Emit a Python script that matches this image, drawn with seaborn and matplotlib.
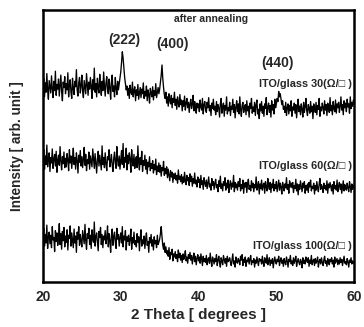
import numpy as np
import pandas as pd
import matplotlib
matplotlib.use("Agg")
import matplotlib.pyplot as plt
import seaborn as sns

# XRD scans of ITO films on glass after annealing, 2-theta from 20 to 60 deg in 0.1 deg steps
two_theta = [round(20 + 0.1 * i, 1) for i in range(401)]

ito_30 = [
    250, 262, 238, 256, 244, 268, 247, 235, 259, 251,
    243, 265, 249, 237, 258, 246, 271, 240, 254, 248,
    261, 239, 252, 266, 245, 233, 257, 250, 264, 242,
    255, 247, 269, 238, 253, 260, 244, 236, 262, 249,
    241, 258, 251, 273, 246, 239, 256, 263, 243, 252,
    266, 245, 237, 259, 250, 242, 268, 254, 240, 257,
    248, 263, 252, 236, 260, 247, 275, 244, 255, 238,
    262, 249, 243, 267, 251, 240, 258, 246, 270, 253,
    239, 256, 264, 248, 242, 261, 250, 235, 257, 266,
    245, 252, 238, 263, 249, 241, 258, 247, 255, 262,
    270, 282, 296, 288, 276, 263, 255, 247, 252, 240,
    249, 236, 253, 244, 241, 257, 238, 246, 251, 233,
    247, 240, 254, 235, 243, 250, 237, 248, 242, 256,
    236, 245, 239, 252, 233, 247, 241, 230, 249, 243,
    238, 251, 234, 246, 240, 255, 237, 244, 250, 242,
    248, 257, 266, 279, 262, 250, 241, 236, 244, 230,
    238, 226, 242, 233, 229, 240, 224, 236, 231, 244,
    227, 235, 222, 238, 230, 225, 241, 228, 234, 220,
    233, 226, 239, 221, 230, 236, 224, 231, 218, 229,
    235, 223, 228, 240, 220, 232, 226, 217, 230, 224,
    229, 219, 234, 225, 221, 236, 216, 228, 232, 222,
    218, 231, 224, 237, 220, 227, 214, 230, 223, 235,
    221, 226, 215, 232, 219, 228, 224, 212, 229, 236,
    217, 225, 230, 213, 227, 221, 238, 216, 224, 220,
    231, 214, 226, 222, 235, 218, 228, 211, 225, 233,
    219, 229, 216, 238, 222, 213, 227, 231, 218, 224,
    228, 215, 233, 220, 226, 212, 230, 223, 236, 217,
    225, 219, 231, 214, 228, 234, 216, 222, 210, 229,
    220, 232, 217, 226, 213, 229, 223, 237, 215, 224,
    230, 218, 227, 212, 233, 221, 228, 216, 235, 224,
    229, 236, 232, 245, 238, 242, 235, 228, 233, 222,
    226, 218, 231, 214, 224, 229, 216, 227, 220, 233,
    213, 225, 221, 230, 217, 228, 211, 224, 235, 219,
    226, 215, 229, 222, 212, 231, 218, 225, 236, 220,
    214, 228, 223, 217, 232, 219, 226, 210, 229, 224,
    218, 231, 215, 227, 222, 236, 213, 225, 220, 230,
    224, 216, 233, 221, 228, 214, 230, 225, 218, 237,
    220, 227, 215, 232, 223, 219, 234, 217, 229, 224,
    231, 218, 226, 238, 221, 228, 215, 233, 224, 230,
    219, 235, 225, 229, 217, 238, 223, 231, 226, 234,
    228,
]

ito_60 = [
    156, 170, 145, 162, 151, 176, 148, 159, 166, 142,
    160, 153, 171, 146, 158, 164, 149, 168, 141, 157,
    163, 150, 174, 155, 144, 161, 152, 167, 147, 159,
    148, 165, 157, 143, 170, 153, 162, 146, 158, 172,
    151, 160, 145, 166, 156, 140, 163, 154, 169, 149,
    161, 147, 158, 173, 150, 164, 143, 157, 152, 167,
    145, 162, 155, 148, 171, 159, 146, 165, 153, 140,
    158, 168, 149, 163, 154, 144, 175, 151, 160, 147,
    166, 152, 143, 161, 157, 170, 148, 155, 164, 150,
    142, 159, 167, 153, 146, 174, 156, 149, 162, 145,
    157, 169, 151, 178, 147, 160, 154, 172, 144, 163,
    152, 166, 158, 141, 170, 155, 149, 164, 146, 157,
    161, 147, 175, 153, 144, 160, 151, 168, 142, 156,
    150, 163, 145, 157, 139, 154, 148, 161, 143, 152,
    146, 156, 140, 151, 144, 158, 138, 149, 142, 153,
    141, 150, 136, 147, 143, 155, 137, 146, 139, 148,
    134, 145, 138, 130, 143, 135, 141, 128, 139, 133,
    140, 131, 137, 127, 144, 132, 136, 129, 138, 126,
    135, 128, 141, 131, 125, 137, 130, 134, 124, 139,
    129, 136, 123, 133, 127, 140, 126, 131, 122, 135,
    128, 132, 121, 137, 125, 130, 119, 134, 127, 123,
    131, 120, 128, 135, 122, 126, 118, 133, 124, 129,
    119, 127, 132, 121, 125, 116, 130, 123, 136, 120,
    126, 117, 129, 124, 134, 118, 127, 121, 131, 115,
    125, 130, 119, 127, 122, 137, 116, 128, 121, 126,
    118, 129, 123, 133, 117, 125, 120, 131, 114, 127,
    122, 128, 115, 126, 132, 119, 124, 117, 130, 121,
    127, 116, 125, 121, 135, 118, 123, 129, 113, 126,
    120, 131, 118, 124, 127, 114, 129, 122, 117, 133,
    123, 119, 128, 115, 126, 121, 132, 117, 125, 120,
    129, 116, 124, 131, 118, 127, 122, 113, 128, 123,
    117, 126, 121, 134, 119, 125, 114, 130, 122, 127,
    121, 128, 115, 124, 120, 132, 117, 126, 112, 125,
    119, 130, 123, 116, 127, 121, 129, 114, 124, 118,
    126, 115, 128, 122, 131, 117, 123, 120, 127, 113,
    124, 118, 129, 121, 116, 126, 133, 119, 125, 122,
    115, 127, 120, 124, 118, 130, 114, 126, 121, 128,
    122, 117, 125, 113, 129, 120, 124, 118, 131, 116,
    123, 128, 119, 126, 114, 122, 130, 117, 125, 120,
    118, 127, 121, 116, 129, 123, 115, 126, 119, 124,
    121,
]

ito_100 = [
    55, 69, 46, 61, 50, 73, 43, 58, 64, 49,
    60, 44, 71, 54, 57, 39, 66, 52, 63, 47,
    58, 75, 48, 62, 42, 65, 53, 70, 45, 59,
    51, 67, 41, 60, 56, 72, 46, 63, 54, 44,
    68, 50, 59, 38, 64, 55, 71, 47, 61, 52,
    45, 66, 57, 49, 74, 53, 42, 62, 56, 69,
    48, 60, 43, 67, 55, 51, 77, 46, 58, 63,
    52, 40, 65, 57, 70, 48, 61, 44, 59, 54,
    66, 49, 56, 72, 45, 62, 53, 38, 60, 68,
    47, 58, 64, 51, 43, 69, 55, 61, 46, 57,
    63, 50, 71, 45, 59, 54, 66, 41, 58, 52,
    60, 47, 55, 68, 42, 57, 50, 64, 48, 53,
    45, 62, 51, 58, 40, 56, 67, 46, 54, 49,
    59, 43, 55, 63, 47, 52, 38, 57, 50, 61,
    46, 54, 41, 58, 49, 53, 44, 60, 48, 51,
    55, 62, 71, 58, 47, 42, 50, 38, 45, 36,
    40, 33, 44, 29, 38, 35, 42, 27, 36, 32,
    39, 30, 35, 26, 41, 31, 37, 28, 34, 25,
    36, 29, 33, 40, 27, 32, 24, 35, 30, 38,
    28, 34, 23, 31, 37, 26, 33, 22, 30, 35,
    27, 32, 24, 36, 29, 21, 33, 26, 30, 25,
    34, 22, 29, 31, 24, 37, 27, 20, 32, 28,
    23, 30, 26, 35, 21, 28, 33, 25, 19, 31,
    27, 22, 34, 29, 24, 30, 20, 33, 26, 28,
    31, 25, 21, 29, 36, 23, 27, 19, 32, 26,
    24, 30, 27, 22, 33, 28, 35, 21, 29, 25,
    32, 20, 28, 26, 31, 23, 29, 34, 22, 27,
    25, 30, 19, 28, 24, 32, 26, 21, 30, 27,
    29, 23, 33, 25, 20, 31, 27, 24, 35, 22,
    26, 31, 21, 28, 24, 30, 18, 27, 32, 25,
    23, 29, 26, 33, 21, 27, 31, 24, 28, 20,
    30, 25, 22, 32, 27, 19, 29, 26, 34, 23,
    27, 21, 31, 24, 28, 33, 20, 26, 30, 25,
    22, 29, 26, 18, 31, 24, 28, 23, 32, 27,
    25, 31, 20, 28, 24, 34, 22, 27, 29, 21,
    30, 24, 27, 32, 19, 26, 29, 23, 31, 25,
    21, 28, 33, 24, 27, 20, 30, 25, 22, 29,
    26, 31, 23, 28, 19, 32, 24, 27, 30, 22,
    28, 23, 31, 25, 29, 21, 27, 33, 24, 26,
    22, 30, 26, 19, 28, 25, 31, 23, 27, 24,
    26,
]

sample_labels = ["ITO/glass 30(\u03a9/\u25a1 )",
                 "ITO/glass 60(\u03a9/\u25a1 )",
                 "ITO/glass 100(\u03a9/\u25a1 )"]
label_levels = [254, 149, 46]

peak_names = ["(222)", "(400)", "(440)"]
peak_pos = [30.5, 36.6, 50.1]
peak_text_y = [311, 306, 281]

x_ticks = [20, 30, 40, 50, 60]
y_ticks = [100, 200, 300]

frames = []
for name, vals in zip(sample_labels, [ito_30, ito_60, ito_100]):
    frames.append(pd.DataFrame({"two_theta": two_theta, "intensity": vals, "sample": name}))
df = pd.concat(frames, ignore_index=True)

sns.set_theme(style="white")
plt.rcParams["font.family"] = ["Liberation Sans", "DejaVu Sans"]

fig = plt.figure(figsize=(3.64, 3.27), dpi=100)
ax = fig.add_axes([0.118, 0.138, 0.855, 0.832])

sns.lineplot(data=df, x="two_theta", y="intensity", units="sample", estimator=None,
             color="black", linewidth=0.95, ax=ax, legend=False)

ax.set_xlim(20, 60)
ax.set_ylim(0, 350)
ax.set_xticks(x_ticks)
ax.set_xticklabels([str(t) for t in x_ticks], fontsize=10, fontweight="bold")
ax.set_yticks(y_ticks)
ax.set_yticklabels([])
ax.tick_params(axis="both", direction="in", length=4, width=1, color="black", pad=6)
ax.tick_params(axis="y", length=5)

for s in ax.spines.values():
    s.set_color("black")
    s.set_linewidth(1.8)

ax.set_xlabel("2 Theta [ degrees ]", fontsize=11, fontweight="bold", labelpad=3)
ax.set_ylabel("Intensity [ arb. unit ]", fontsize=9.8, fontweight="bold", labelpad=8)

ax.text(41.6, 338, "after annealing", fontsize=7.5, fontweight="bold", ha="center", va="center")
for name, px, py in zip(peak_names, peak_pos, peak_text_y):
    ax.text(px, py, name, fontsize=10, fontweight="bold", ha="center", va="center")
for name, ly in zip(sample_labels, label_levels):
    ax.text(59.7, ly, name, fontsize=7.8, fontweight="bold", ha="right", va="center")

fig.savefig("out.png", dpi=100)
